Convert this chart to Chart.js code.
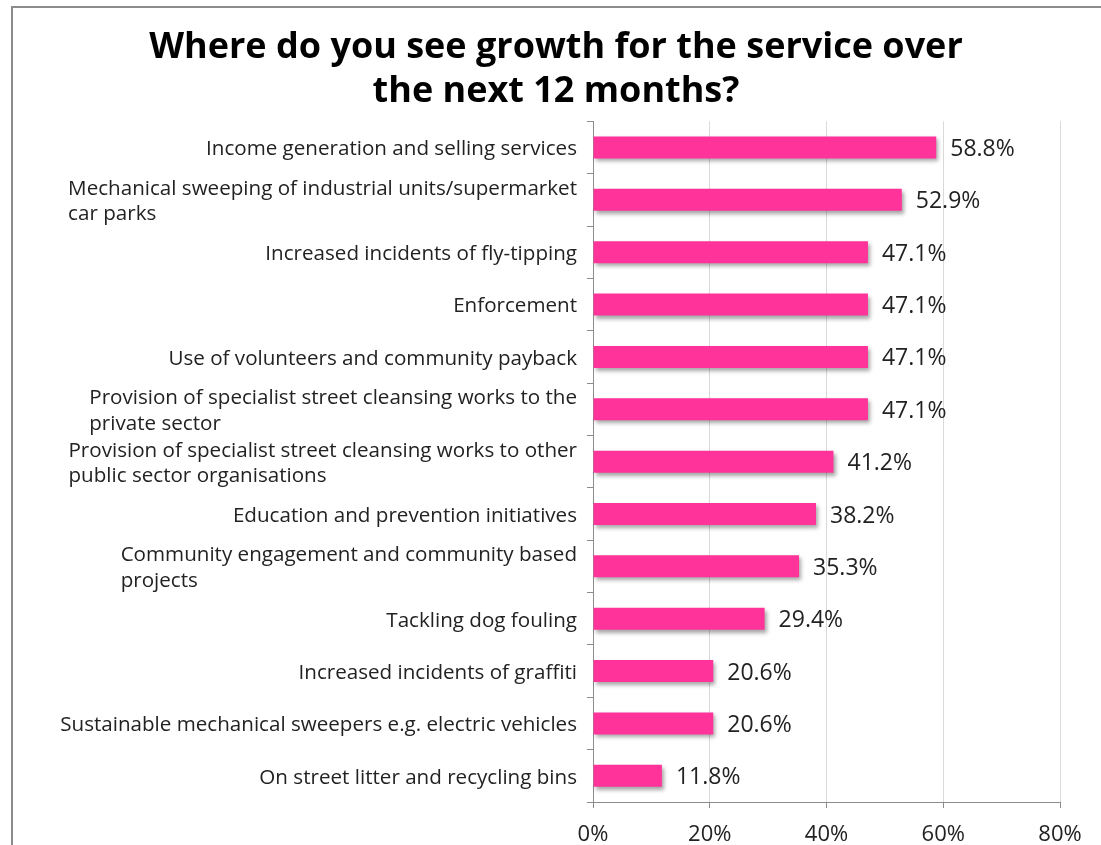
<!DOCTYPE html>
<html>
<head>
<meta charset="utf-8">
<script src="https://cdn.jsdelivr.net/npm/chart.js@4.4.1/dist/chart.umd.min.js"></script>
<style>
  html, body { margin: 0; padding: 0; background: #fff; }
  #wrap { position: relative; width: 1101px; height: 845px; overflow: hidden; }
  #frame { position: absolute; left: 11px; top: 6px; width: 1200px; height: 1000px;
           border-left: 2px solid #8c8c8c; border-top: 2px solid #8c8c8c; }
  canvas { position: absolute; left: 0; top: 0; }
</style>
</head>
<body>
<div id="wrap">
  <div id="frame"></div>
  <canvas id="chart" width="1101" height="845"></canvas>
</div>
<script>
var titleLines = ['Where do you see growth for the service over', 'the next 12 months?'];

var categories = [
    ['Income generation and selling services'],
    ['Mechanical sweeping of industrial units/supermarket', 'car parks'],
    ['Increased incidents of fly-tipping'],
    ['Enforcement'],
    ['Use of volunteers and community payback'],
    ['Provision of specialist street cleansing works to the', 'private sector'],
    ['Provision of specialist street cleansing works to other', 'public sector organisations'],
    ['Education and prevention initiatives'],
    ['Community engagement and community based', 'projects'],
    ['Tackling dog fouling'],
    ['Increased incidents of graffiti'],
    ['Sustainable mechanical sweepers e.g. electric vehicles'],
    ['On street litter and recycling bins']
];

var values = [58.8, 52.9, 47.1, 47.1, 47.1, 47.1, 41.2, 38.2, 35.3, 29.4, 20.6, 20.6, 11.8];

var xTicks = [0, 20, 40, 60, 80];

var FONT = "'Open Sans', sans-serif";

// shadow under the bars
var barShadow = {
    id: 'barShadow',
    beforeDatasetDraw: function(chart) {
        var ctx = chart.ctx;
        ctx.save();
        ctx.shadowColor = 'rgba(0,0,0,0.35)';
        ctx.shadowBlur = 4;
        ctx.shadowOffsetX = 2;
        ctx.shadowOffsetY = 3;
    },
    afterDatasetDraw: function(chart) {
        chart.ctx.restore();
    }
};

// value labels + category labels (block right aligned, lines left aligned)
var labelPlugin = {
    id: 'labelPlugin',
    afterDatasetsDraw: function(chart) {
        var ctx = chart.ctx;
        var meta = chart.getDatasetMeta(0);
        ctx.save();
        ctx.fillStyle = '#222';
        ctx.font = '23px ' + FONT;
        ctx.textAlign = 'left';
        ctx.textBaseline = 'middle';
        meta.data.forEach(function(bar, i) {
            ctx.fillText(values[i].toFixed(1) + '%', bar.x + 14, bar.y + 2);
        });

        var yScale = chart.scales.y;
        var right = yScale.right - 16;
        var lh = 25.5;
        ctx.font = '20.6px ' + FONT;
        categories.forEach(function(lines, i) {
            var cy = yScale.getPixelForValue(i) + 2;
            var widest = 0;
            lines.forEach(function(t) { widest = Math.max(widest, ctx.measureText(t).width); });
            var left = right - widest;
            var y0 = cy - (lines.length - 1) * lh / 2;
            lines.forEach(function(t, k) {
                ctx.fillText(t, left, y0 + k * lh);
            });
        });
        ctx.restore();
    }
};

var ctx = document.getElementById('chart');
var myChart = new Chart(ctx, {
    type: 'bar',
    data: {
        labels: categories.map(function(c) { return c.join(' '); }),
        datasets: [{
            data: values,
            backgroundColor: '#FF3399',
            borderWidth: 0,
            barPercentage: 0.42,
            categoryPercentage: 1
        }]
    },
    plugins: [barShadow, labelPlugin],
    options: {
        indexAxis: 'y',
        responsive: false,
        animation: false,
        // left/right padding keeps the title centred on the framed box
        layout: { padding: { left: 52, right: 41, top: 0, bottom: 0 } },
        plugins: {
            legend: { display: false },
            tooltip: { enabled: false },
            title: {
                display: true,
                text: titleLines,
                color: '#000',
                font: { family: FONT, size: 36, weight: 'bold', lineHeight: 1.24 },
                padding: { top: 25, bottom: 7 }
            }
        },
        scales: {
            x: {
                min: 0,
                max: 80,
                afterBuildTicks: function(scale) {
                    scale.ticks = xTicks.map(function(v) { return { value: v }; });
                },
                afterFit: function(scale) { scale.height = 43; },
                ticks: {
                    color: '#222',
                    font: { family: FONT, size: 22 },
                    padding: 14,
                    callback: function(v) { return v + '%'; }
                },
                grid: { color: '#d9d9d9', tickColor: '#8c8c8c', tickLength: 6 },
                border: { color: '#8c8c8c' }
            },
            y: {
                afterFit: function(scale) { scale.width = 541; },
                ticks: { color: 'rgba(0,0,0,0)', font: { family: FONT, size: 12 }, padding: 10 },
                grid: { drawOnChartArea: false, tickColor: '#8c8c8c', tickLength: 6 },
                border: { color: '#8c8c8c' }
            }
        }
    }
});
</script>
</body>
</html>
